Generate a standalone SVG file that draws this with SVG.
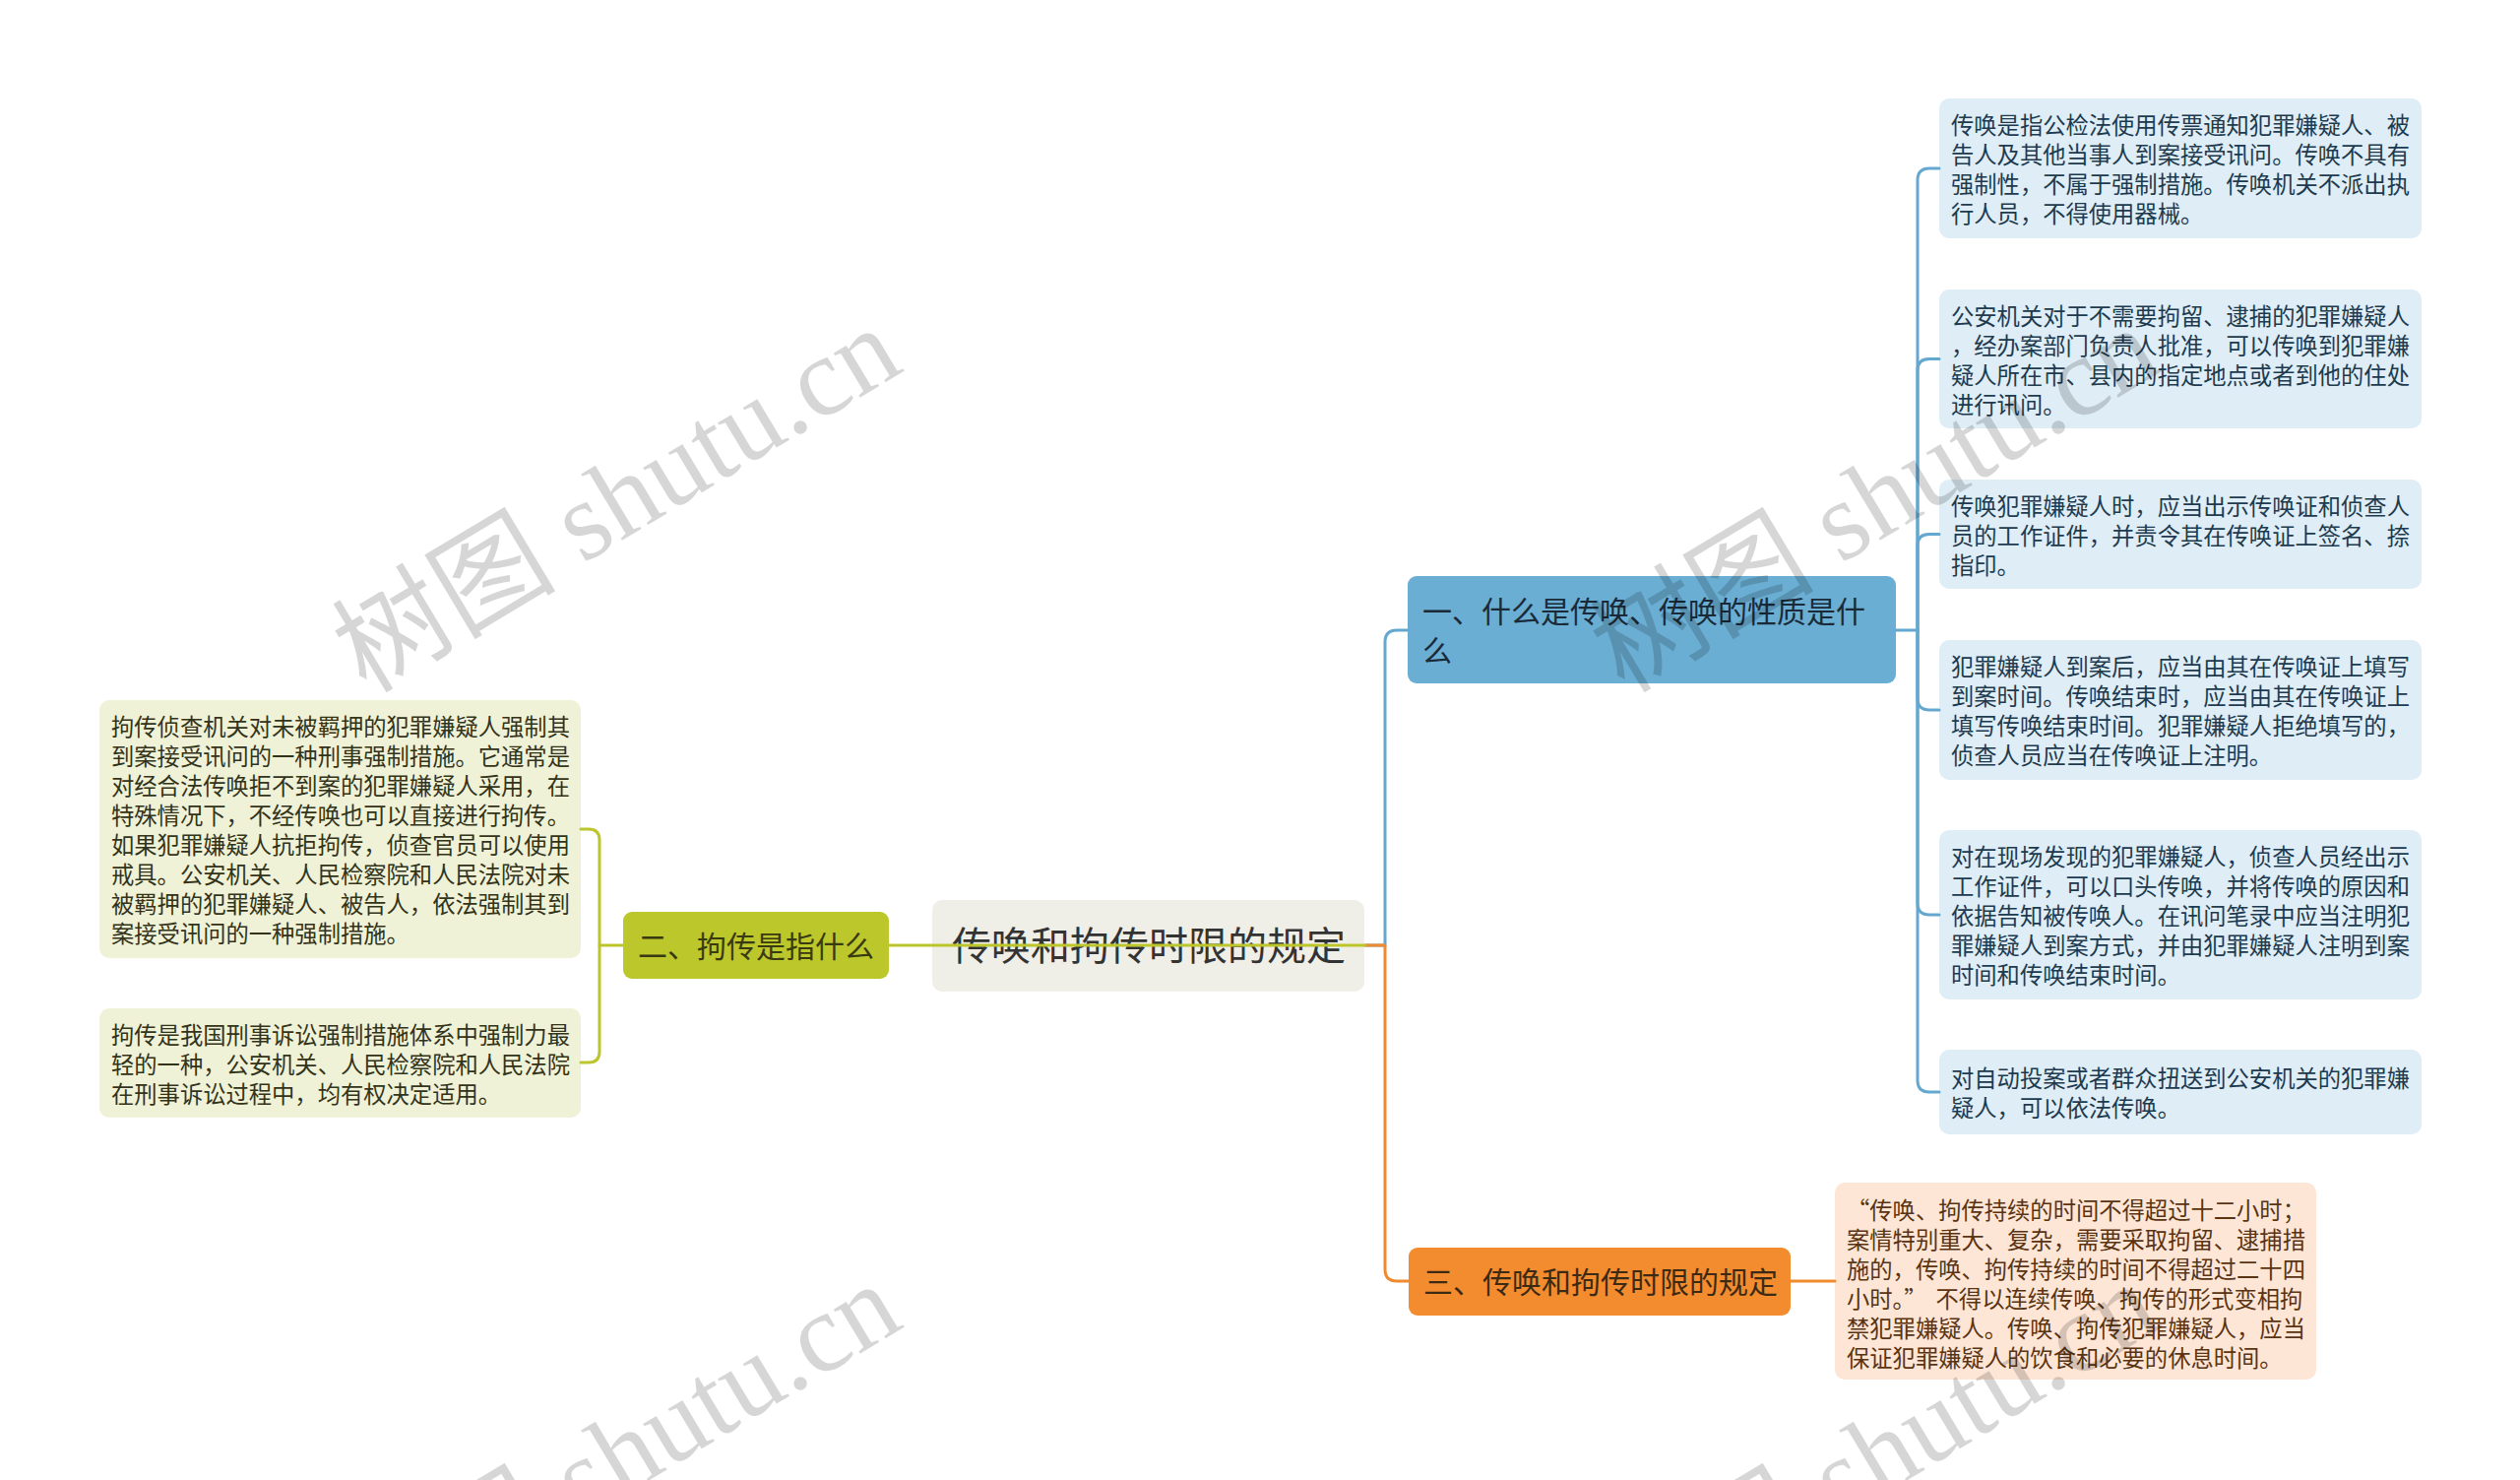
<svg xmlns="http://www.w3.org/2000/svg" width="2560" height="1503" viewBox="0 0 2560 1503">
<style>
text{font-family:"Noto Sans CJK SC","Noto Sans",sans-serif;}
.leaf{font-size:23.3px;}
.bl{fill:#deedf6;}
.bt{fill:#1d3a4f;}
.ol{fill:#fde6d6;}
.ot{fill:#5a3412;}
.yl{fill:#eff2d6;}
.yt{fill:#33331a;}
.c{fill:none;stroke-width:3;stroke-linecap:round;stroke-linejoin:round;}
.cb{stroke:#64a8cf;}
.co{stroke:#ef8a2f;}
.cy{stroke:#bcc62c;}
.wm{font-family:"Liberation Serif","Noto Sans CJK SC",serif;font-size:114px;fill:#000;fill-opacity:0.16;}
</style>
<rect width="2560" height="1503" fill="#ffffff"/>

<g id="node-center">
<rect x="947" y="914" width="439" height="93" rx="10" fill="#efeee7"/>
<text x="1167" y="975" font-size="40" text-anchor="middle" fill="#333333">传唤和拘传时限的规定</text>
</g>

<g id="node-b1">
<rect x="1430" y="585" width="496" height="109" rx="9" fill="#6aaed3"/>
<text font-size="30" fill="#1a2a38"><tspan x="1445" y="632">一、什么是传唤、传唤的性质是什</tspan><tspan x="1445" y="672">么</tspan></text>
</g>

<g id="node-b2">
<rect x="633" y="926" width="270" height="68" rx="9" fill="#bcc72c"/>
<text x="768" y="972" font-size="30" text-anchor="middle" fill="#3a3a12">二、拘传是指什么</text>
</g>

<g id="node-b3">
<rect x="1431" y="1267" width="388" height="69" rx="9" fill="#f28c2f"/>
<text x="1446" y="1313" font-size="30" fill="#3d2a14">三、传唤和拘传时限的规定</text>
</g>

<g id="leaf-b1-1">
<rect class="bl" x="1970" y="100" width="490" height="142" rx="10"/>
<text class="leaf bt"><tspan x="1982" y="136">传唤是指公检法使用传票通知犯罪嫌疑人、被</tspan><tspan x="1982" dy="30">告人及其他当事人到案接受讯问。传唤不具有</tspan><tspan x="1982" dy="30">强制性，不属于强制措施。传唤机关不派出执</tspan><tspan x="1982" dy="30">行人员，不得使用器械。</tspan></text>
</g>
<g id="leaf-b1-2">
<rect class="bl" x="1970" y="294" width="490" height="141" rx="10"/>
<text class="leaf bt"><tspan x="1982" y="329.5">公安机关对于不需要拘留、逮捕的犯罪嫌疑人</tspan><tspan x="1982" dy="30">，经办案部门负责人批准，可以传唤到犯罪嫌</tspan><tspan x="1982" dy="30">疑人所在市、县内的指定地点或者到他的住处</tspan><tspan x="1982" dy="30">进行讯问。</tspan></text>
</g>
<g id="leaf-b1-3">
<rect class="bl" x="1970" y="487" width="490" height="111" rx="10"/>
<text class="leaf bt"><tspan x="1982" y="522.5">传唤犯罪嫌疑人时，应当出示传唤证和侦查人</tspan><tspan x="1982" dy="30">员的工作证件，并责令其在传唤证上签名、捺</tspan><tspan x="1982" dy="30">指印。</tspan></text>
</g>
<g id="leaf-b1-4">
<rect class="bl" x="1970" y="650" width="490" height="142" rx="10"/>
<text class="leaf bt"><tspan x="1982" y="686">犯罪嫌疑人到案后，应当由其在传唤证上填写</tspan><tspan x="1982" dy="30">到案时间。传唤结束时，应当由其在传唤证上</tspan><tspan x="1982" dy="30">填写传唤结束时间。犯罪嫌疑人拒绝填写的，</tspan><tspan x="1982" dy="30">侦查人员应当在传唤证上注明。</tspan></text>
</g>
<g id="leaf-b1-5">
<rect class="bl" x="1970" y="843" width="490" height="172" rx="10"/>
<text class="leaf bt"><tspan x="1982" y="879">对在现场发现的犯罪嫌疑人，侦查人员经出示</tspan><tspan x="1982" dy="30">工作证件，可以口头传唤，并将传唤的原因和</tspan><tspan x="1982" dy="30">依据告知被传唤人。在讯问笔录中应当注明犯</tspan><tspan x="1982" dy="30">罪嫌疑人到案方式，并由犯罪嫌疑人注明到案</tspan><tspan x="1982" dy="30">时间和传唤结束时间。</tspan></text>
</g>
<g id="leaf-b1-6">
<rect class="bl" x="1970" y="1066" width="490" height="86" rx="10"/>
<text class="leaf bt"><tspan x="1982" y="1104">对自动投案或者群众扭送到公安机关的犯罪嫌</tspan><tspan x="1982" dy="30">疑人，可以依法传唤。</tspan></text>
</g>

<g id="leaf-b3-1">
<rect class="ol" x="1864" y="1201" width="489" height="200" rx="10"/>
<text class="leaf ot"><tspan x="1876" y="1238">“传唤、拘传持续的时间不得超过十二小时；</tspan><tspan x="1876" dy="30">案情特别重大、复杂，需要采取拘留、逮捕措</tspan><tspan x="1876" dy="30">施的，传唤、拘传持续的时间不得超过二十四</tspan><tspan x="1876" dy="30">小时。”</tspan><tspan dx="9">不得以连续传唤、拘传的形式变相拘</tspan><tspan x="1876" dy="30">禁犯罪嫌疑人。传唤、拘传犯罪嫌疑人，应当</tspan><tspan x="1876" dy="30">保证犯罪嫌疑人的饮食和必要的休息时间。</tspan></text>
</g>

<g id="leaf-b2-1">
<rect class="yl" x="101" y="711" width="489" height="262" rx="10"/>
<text class="leaf yt"><tspan x="113" y="747">拘传侦查机关对未被羁押的犯罪嫌疑人强制其</tspan><tspan x="113" dy="30">到案接受讯问的一种刑事强制措施。它通常是</tspan><tspan x="113" dy="30">对经合法传唤拒不到案的犯罪嫌疑人采用，在</tspan><tspan x="113" dy="30">特殊情况下，不经传唤也可以直接进行拘传。</tspan><tspan x="113" dy="30">如果犯罪嫌疑人抗拒拘传，侦查官员可以使用</tspan><tspan x="113" dy="30">戒具。公安机关、人民检察院和人民法院对未</tspan><tspan x="113" dy="30">被羁押的犯罪嫌疑人、被告人，依法强制其到</tspan><tspan x="113" dy="30">案接受讯问的一种强制措施。</tspan></text>
</g>
<g id="leaf-b2-2">
<rect class="yl" x="101" y="1024" width="489" height="111" rx="10"/>
<text class="leaf yt"><tspan x="113" y="1060">拘传是我国刑事诉讼强制措施体系中强制力最</tspan><tspan x="113" dy="30">轻的一种，公安机关、人民检察院和人民法院</tspan><tspan x="113" dy="30">在刑事诉讼过程中，均有权决定适用。</tspan></text>
</g>

<g id="connectors">
<path class="c cb" d="M1387,960 H1407 V652 Q1407,640 1419,640 H1430"/>
<path class="c co" d="M1387,960 H1407 V1289 Q1407,1301 1419,1301 H1431"/>
<path class="c cy" d="M1387,960 H903"/>
<path class="c cy" d="M633,960 H609 V853 Q609,842 598,842 H590"/>
<path class="c cy" d="M609,960 V1068 Q609,1079 598,1079 H590"/>
<path class="c cb" d="M1926,640 H1948"/>
<path class="c cb" d="M1948,640 V183 Q1948,171 1960,171 H1970"/>
<path class="c cb" d="M1948,640 V376 Q1948,364.5 1960,364.5 H1970"/>
<path class="c cb" d="M1948,640 V554 Q1948,542.5 1960,542.5 H1970"/>
<path class="c cb" d="M1948,640 V709 Q1948,721 1960,721 H1970"/>
<path class="c cb" d="M1948,640 V917 Q1948,929 1960,929 H1970"/>
<path class="c cb" d="M1948,640 V1097 Q1948,1109 1960,1109 H1970"/>
<path class="c co" d="M1819,1301 H1864"/>
</g>

<g id="watermarks">
<text class="wm" x="372" y="705" transform="rotate(-31 372 705)">树图 shutu.cn</text>
<text class="wm" x="1650" y="705" transform="rotate(-31 1650 705)">树图 shutu.cn</text>
<text class="wm" x="372" y="1676" transform="rotate(-31 372 1676)">树图 shutu.cn</text>
<text class="wm" x="1650" y="1676" transform="rotate(-31 1650 1676)">树图 shutu.cn</text>
</g>
</svg>
